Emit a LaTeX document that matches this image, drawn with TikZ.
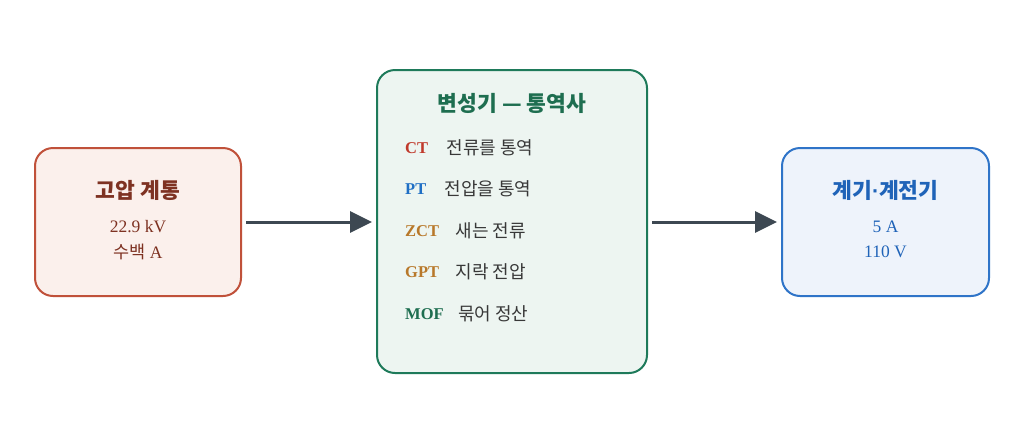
\documentclass[tikz,border=0pt]{standalone}
\usepackage{fontspec}
\setmainfont{Liberation Serif}
\newfontfamily\kr{Noto Sans CJK KR}
\newfontfamily\dotfont{Liberation Sans}
\usetikzlibrary{arrows.meta, positioning}

\definecolor{srcline}{HTML}{C0513A}
\definecolor{srcfill}{HTML}{FBF0EC}
\definecolor{srctext}{HTML}{7E3222}
\definecolor{midline}{HTML}{1E7A5A}
\definecolor{midfill}{HTML}{EDF5F1}
\definecolor{midtext}{HTML}{1E6E50}
\definecolor{dstline}{HTML}{2F74C8}
\definecolor{dstfill}{HTML}{EEF3FB}
\definecolor{dsttext}{HTML}{1F63B8}
\definecolor{ctcol}{HTML}{C0392B}
\definecolor{ptcol}{HTML}{1F6FC5}
\definecolor{zctcol}{HTML}{B8782A}
\definecolor{bodytext}{HTML}{383838}
\definecolor{arrowcol}{HTML}{3D4852}

\begin{document}
\begin{tikzpicture}[
    x=1pt, y=-1pt,
    box/.style={rectangle, rounded corners=18pt, line width=2pt, inner sep=0pt},
    title/.style={font=\kr\bfseries\fontsize{21.5}{24}\selectfont},
    value/.style={font=\fontsize{17.5}{20}\selectfont},
    tag/.style={font=\bfseries\fontsize{16.5}{18}\selectfont, anchor=west, inner sep=0pt},
    desc/.style={font=\kr\fontsize{18}{20}\selectfont, text=bodytext, inner sep=0pt},
    arrow/.style={-{Triangle[length=22pt, width=21pt]}, line width=3pt, draw=arrowcol,
        shorten <=4pt, shorten >=4pt}
]
\useasboundingbox (0,0) rectangle (1024,445);

% Boxes
\node[box, draw=srcline, fill=srcfill, minimum width=206pt, minimum height=148pt] (grid) at (138,222) {};
\node[box, draw=midline, fill=midfill, minimum width=270pt, minimum height=303pt] (trans) at (512,221.5) {};
\node[box, draw=dstline, fill=dstfill, minimum width=207pt, minimum height=148pt] (meter) at (885.5,222) {};

% Source side
\node[title, text=srctext] (gridtitle) at (138,190) {고압 계통};
\node[value, text=srctext] (gridv) at (138,227) {22.9 kV};
\node[value, text=srctext] (grida) at (138,252) {{\kr 수백} A};

% Transformer list
\node[title, text=midtext] (transtitle) at (512,103) {변성기 — 통역사};
\node[tag, text=ctcol] (ct) at (405,148) {CT};
\node[desc, right=18pt of ct] {전류를 통역};
\node[tag, text=ptcol] (pt) at (405,189) {PT};
\node[desc, right=18pt of pt] {전압을 통역};
\node[tag, text=zctcol] (zct) at (405,231) {ZCT};
\node[desc, right=16pt of zct] {새는 전류};
\node[tag, text=zctcol] (gpt) at (405,272) {GPT};
\node[desc, right=16pt of gpt] {지락 전압};
\node[tag, text=midtext] (mof) at (405,314) {MOF};
\node[desc, right=14pt of mof] {묶어 정산};

% Meter side
\node[title, text=dsttext] (metertitle) at (885.5,190) {계기{\dotfont ·}계전기};
\node[value, text=dsttext] (metera) at (885.5,227) {5 A};
\node[value, text=dsttext] (meterv) at (885.5,252) {110 V};

% Arrows
\draw[arrow] (grid.east) -- (trans.west |- grid.east);
\draw[arrow] (trans.east |- meter.west) -- (meter.west);

\end{tikzpicture}
\end{document}
